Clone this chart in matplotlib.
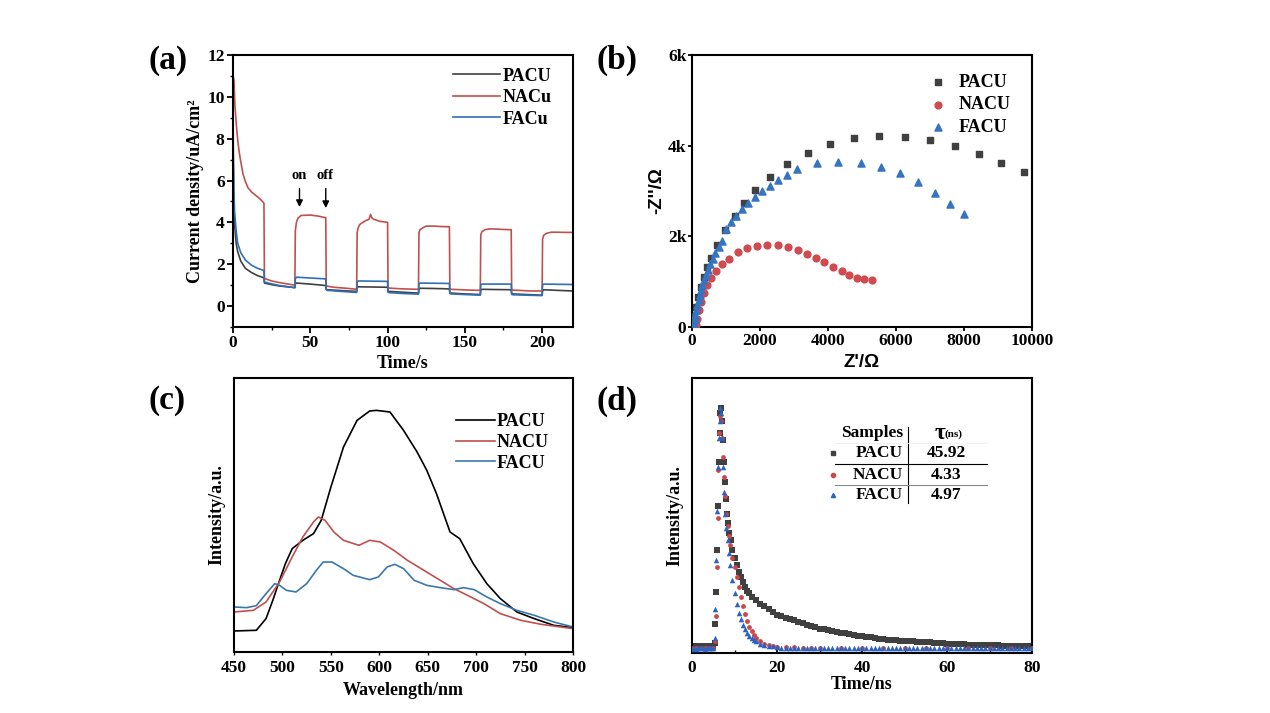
import numpy as np
import matplotlib
matplotlib.use('Agg')
import matplotlib.pyplot as plt
from matplotlib.ticker import MultipleLocator, FuncFormatter

plt.rcParams['font.family'] = ['Liberation Serif', 'DejaVu Serif']
plt.rcParams['font.weight'] = 'bold'
plt.rcParams['axes.labelweight'] = 'bold'
plt.rcParams['axes.linewidth'] = 1.5

# colours
c_pa = '#404040'
c_na = '#c0504d'
c_fa = '#2f6fb5'

# ---------------- (a) photocurrent ----------------
t_pa = [0, 0.5, 1, 2, 3, 5, 8, 12, 16, 20, 20.3, 25, 30, 35, 40, 40.3, 41, 50, 60, 60.3, 61, 70, 80,
        80.3, 81, 90, 100, 100.3, 101, 110, 120, 120.3, 121, 130, 140, 140.3, 141, 150, 160,
        160.3, 161, 170, 180, 180.3, 181, 190, 200, 200.3, 201, 210, 220]
j_pa = [8.8, 5.0, 3.9, 3.0, 2.6, 2.15, 1.8, 1.6, 1.45, 1.35, 1.1, 1.02, 0.96, 0.92, 0.88, 1.05, 1.1, 1.05, 0.98, 0.8, 0.78, 0.74, 0.7,
        0.88, 0.92, 0.91, 0.9, 0.72, 0.7, 0.66, 0.62, 0.82, 0.85, 0.84, 0.82, 0.64, 0.62, 0.58, 0.55,
        0.76, 0.8, 0.79, 0.78, 0.6, 0.58, 0.55, 0.52, 0.74, 0.78, 0.75, 0.72]

t_na = [0, 0.6, 1.2, 2.2, 3.2, 4.3, 5.5, 6.5, 8, 9.7, 12, 14, 17, 19.8, 20, 20.3, 21, 25, 30, 35, 40,
        40.3, 41, 42, 44, 50, 55, 60, 60.3, 61, 65, 70, 75, 80,
        80.3, 81, 82, 85, 88, 89, 90, 91, 95, 100, 100.3, 101, 105, 110, 115, 120,
        120.3, 121, 123, 125, 130, 135, 140, 140.3, 141, 145, 150, 155, 160,
        160.3, 161, 163, 166, 170, 175, 180, 180.3, 181, 185, 190, 195, 200,
        200.3, 201, 203, 206, 210, 215, 220]
j_na = [11.0, 10.8, 9.6, 8.6, 7.8, 7.2, 6.7, 6.3, 5.95, 5.65, 5.45, 5.33, 5.15, 4.94, 4.9, 1.35, 1.3, 1.2, 1.12, 1.06, 1.0,
        3.6, 4.0, 4.2, 4.33, 4.35, 4.3, 4.22, 1.0, 0.95, 0.9, 0.87, 0.84, 0.8,
        3.5, 3.75, 3.9, 4.05, 4.15, 4.38, 4.2, 4.15, 4.05, 4.0, 0.9, 0.86, 0.84, 0.82, 0.81, 0.8,
        3.5, 3.65, 3.75, 3.82, 3.82, 3.8, 3.79, 0.82, 0.8, 0.79, 0.77, 0.76, 0.75,
        3.4, 3.55, 3.65, 3.69, 3.68, 3.66, 3.65, 0.78, 0.76, 0.75, 0.73, 0.72, 0.72,
        3.2, 3.38, 3.48, 3.53, 3.53, 3.52, 3.52]

t_fa = [0, 0.5, 1, 2, 3, 5, 8, 12, 16, 20, 20.3, 25, 30, 35, 40, 40.3, 41, 50, 60, 60.3, 61, 70, 80,
        80.3, 81, 90, 100, 100.3, 101, 110, 120, 120.3, 121, 130, 140, 140.3, 141, 150, 160,
        160.3, 161, 170, 180, 180.3, 181, 190, 200, 200.3, 201, 210, 220]
j_fa = [7.5, 5.5, 4.5, 3.6, 3.0, 2.55, 2.2, 1.95, 1.8, 1.7, 1.15, 1.06, 0.98, 0.93, 0.88, 1.3, 1.38, 1.34, 1.3, 0.78, 0.75, 0.7, 0.65,
        1.15, 1.2, 1.19, 1.18, 0.66, 0.64, 0.6, 0.57, 1.06, 1.1, 1.09, 1.08, 0.6, 0.58, 0.55, 0.52,
        1.02, 1.05, 1.05, 1.05, 0.56, 0.54, 0.52, 0.5, 1.0, 1.05, 1.04, 1.03]

# ---------------- (b) Nyquist ----------------
zr_pa = [50, 70, 110, 170, 250, 340, 440, 560, 720, 980, 1250, 1540, 1860, 2300, 2800, 3420, 4070,
         4770, 5510, 6250, 6990, 7740, 8430, 9100, 9750]
zi_pa = [40, 220, 440, 660, 880, 1100, 1330, 1530, 1810, 2140, 2450, 2740, 3020, 3310, 3600, 3840, 4040,
         4160, 4210, 4200, 4120, 3990, 3810, 3620, 3420]

zr_na = [110, 150, 200, 260, 340, 440, 550, 700, 870, 1090, 1340, 1620, 1900, 2210, 2520, 2820, 3120,
         3380, 3640, 3870, 4140, 4400, 4630, 4850, 5070, 5290]
zi_na = [40, 180, 370, 550, 740, 920, 1080, 1230, 1380, 1510, 1650, 1740, 1780, 1800, 1800, 1760, 1690,
         1610, 1520, 1430, 1330, 1230, 1140, 1080, 1050, 1030]

zr_fa = [60, 80, 100, 130, 160, 200, 230, 260, 300, 340, 400, 460, 530, 610, 690, 780, 890, 1010, 1140, 1290, 1460,
         1650, 1840, 2050, 2290, 2530, 2800, 3080, 3680, 4300, 4960, 5570, 6130, 6660, 7160, 7580, 7990]
zi_fa = [70, 170, 260, 370, 480, 590, 700, 810, 920, 1030, 1140, 1260, 1380, 1510, 1630, 1760, 1890, 2170, 2310, 2450, 2600,
         2740, 2870, 3000, 3120, 3240, 3360, 3480, 3610, 3640, 3610, 3530, 3390, 3190, 2950, 2720, 2500]

# ---------------- (c) PL spectra ----------------
wl_pa = [450, 473, 483, 490, 497, 503, 510, 521, 532, 540, 550, 563, 577, 590, 597, 611, 625, 639, 649,
         659, 673, 678, 683, 697, 711, 725, 742, 760, 780, 800]
pl_pa = [63, 65, 100, 155, 215, 265, 310, 335, 355, 395, 495, 615, 695, 723, 725, 720, 665, 600, 545,
         475, 360, 350, 340, 265, 205, 160, 120, 100, 80, 73]

wl_na = [450, 470, 483, 497, 510, 521, 532, 537, 544, 553, 563, 579, 590, 601, 615, 629, 646, 663, 677,
         691, 708, 725, 746, 767, 800]
pl_na = [120, 125, 150, 210, 285, 345, 390, 405, 395, 360, 335, 320, 335, 330, 305, 275, 245, 215, 190,
         170, 145, 115, 95, 83, 70]

wl_fa = [450, 463, 473, 483, 492, 497, 504, 514, 525, 535, 542, 551, 563, 573, 590, 599, 608, 616, 625,
         636, 649, 663, 677, 687, 698, 711, 725, 742, 760, 780, 800]
pl_fa = [135, 133, 139, 175, 205, 200, 185, 180, 205, 245, 270, 270, 250, 230, 217, 225, 255, 263, 250,
         215, 200, 193, 187, 193, 187, 165, 145, 125, 110, 90, 75]

# ---------------- (d) TRPL ----------------
td_pa = [0, 0.5, 1, 1.5, 2, 2.5, 3, 3.5, 4, 4.5, 5, 5.3, 5.5, 5.7, 5.9, 6.1, 6.3, 6.5, 6.7, 6.9, 7.1,
         7.3, 7.5, 7.7, 7.9, 8.2, 8.5, 8.8, 9.1, 9.5, 10, 10.5, 11, 11.5, 12, 12.5, 13, 13.5]
td_pa += list(range(14, 81))
it_pa = [0.025, 0.03, 0.022, 0.028, 0.024, 0.03, 0.026, 0.023, 0.029, 0.025, 0.027, 0.04, 0.12, 0.25,
         0.42, 0.6, 0.78, 0.9, 0.98, 1.0, 0.95, 0.87, 0.78, 0.7, 0.63, 0.57, 0.53, 0.49, 0.46, 0.42,
         0.39, 0.36, 0.33, 0.31, 0.29, 0.27, 0.255, 0.245,
         0.23, 0.215, 0.2, 0.19, 0.18, 0.168, 0.156, 0.15, 0.143, 0.138, 0.133, 0.128, 0.122, 0.116,
         0.11, 0.106, 0.1, 0.097, 0.093, 0.089, 0.086, 0.082, 0.08, 0.077, 0.074, 0.071, 0.068, 0.066,
         0.064, 0.061, 0.059, 0.057, 0.055, 0.053, 0.052, 0.05, 0.048, 0.048, 0.047, 0.046, 0.045,
         0.044, 0.043, 0.042, 0.04, 0.039, 0.038, 0.038, 0.037, 0.036, 0.035, 0.034, 0.034, 0.033,
         0.032, 0.032, 0.031, 0.031, 0.031, 0.03, 0.03, 0.03, 0.029, 0.029, 0.028, 0.028, 0.027]

td_na = [0, 1, 2, 3, 4, 5, 5.4, 5.6, 5.8, 6.0, 6.2, 6.4, 6.6, 6.8, 7.0, 7.2, 7.5, 7.8, 8.1, 8.4, 8.7,
         9.0, 9.5, 10, 10.5, 11, 11.5, 12, 12.5, 13, 13.5, 14, 14.5, 15, 16, 17, 18, 19, 20,
         22, 24, 26, 28, 30, 35, 40, 45, 50, 55, 60, 65, 70, 75, 80]
it_na = [0.02, 0.022, 0.019, 0.021, 0.02, 0.022, 0.05, 0.15, 0.35, 0.55, 0.75, 0.9, 0.97, 0.95, 0.88,
         0.8, 0.72, 0.64, 0.57, 0.52, 0.48, 0.44, 0.39, 0.35, 0.31, 0.27, 0.23, 0.19, 0.16, 0.13,
         0.108, 0.088, 0.073, 0.061, 0.048, 0.038, 0.031, 0.028, 0.026,
         0.024, 0.023, 0.022, 0.022, 0.021, 0.021, 0.02, 0.02, 0.02, 0.02, 0.02, 0.02, 0.02, 0.02, 0.02]

td_fa = [0, 0.5, 1, 1.5, 2, 2.5, 3, 3.5, 4, 4.5, 5, 5.3, 5.5, 5.7, 5.9, 6.1, 6.3, 6.5, 6.7, 6.9, 7.1,
         7.3, 7.5, 7.8, 8.1, 8.4, 8.7, 9.0, 9.5, 10, 10.5, 11, 11.5, 12, 12.5, 13, 13.5, 14, 14.5, 15,
         16, 17, 18, 19]
td_fa += list(range(20, 81))
it_fa = [0.018, 0.02, 0.017, 0.021, 0.019, 0.02, 0.018, 0.021, 0.019, 0.02, 0.02, 0.06, 0.18, 0.38,
         0.58, 0.76, 0.88, 0.95, 1.0, 0.98, 0.88, 0.76, 0.66, 0.57, 0.51, 0.46, 0.41, 0.36, 0.3, 0.245,
         0.2, 0.163, 0.137, 0.116, 0.097, 0.082, 0.07, 0.061, 0.054, 0.048, 0.038, 0.033, 0.03, 0.027]
it_fa += [0.024, 0.022, 0.021, 0.02, 0.021, 0.019, 0.02, 0.021, 0.019, 0.02, 0.02, 0.019, 0.021, 0.02,
          0.019, 0.02, 0.021, 0.019, 0.02, 0.02, 0.019, 0.021, 0.02, 0.019, 0.02, 0.021, 0.019, 0.02,
          0.02, 0.019, 0.021, 0.02, 0.019, 0.02, 0.021, 0.019, 0.02, 0.02, 0.019, 0.021, 0.02, 0.019,
          0.02, 0.021, 0.019, 0.02, 0.02, 0.019, 0.021, 0.02, 0.019, 0.02, 0.021, 0.019, 0.02, 0.02,
          0.019, 0.021, 0.02, 0.019, 0.02]

samples = ['PACU', 'NACU', 'FACU']
taus = ['45.92', '4.33', '4.97']

fig = plt.figure(figsize=(12.7, 7.13), dpi=100)

tick_font = 12.5
label_font = 13

# (a)
ax1 = fig.add_axes([0.1835, 0.5414, 0.2677, 0.3815])
ax1.plot(t_pa, j_pa, color=c_pa, lw=1.2, label='PACU')
ax1.plot(t_na, j_na, color=c_na, lw=1.2, label='NACu')
ax1.plot(t_fa, j_fa, color=c_fa, lw=1.2, label='FACu')
ax1.set_xlim(0, 220)
ax1.set_ylim(-1, 12)
ax1.xaxis.set_major_locator(MultipleLocator(50))
ax1.xaxis.set_minor_locator(MultipleLocator(25))
ax1.yaxis.set_major_locator(MultipleLocator(2))
ax1.yaxis.set_minor_locator(MultipleLocator(1))
ax1.tick_params(which='major', direction='out', length=4, width=1.3, labelsize=tick_font, pad=2)
ax1.tick_params(which='minor', direction='out', length=2.5, width=1.0)
ax1.set_xlabel('Time/s', fontsize=label_font, labelpad=3)
ax1.set_ylabel('Current density/uA/cm²', fontsize=label_font, labelpad=2)
ax1.legend(loc='upper right', bbox_to_anchor=(0.975, 1.0), frameon=False, fontsize=label_font,
           handlelength=2.6, handletextpad=0.15, labelspacing=0.25, borderaxespad=0.3)
ax1.annotate('', xy=(43, 4.6), xytext=(43, 5.75),
             arrowprops=dict(arrowstyle='-|>', color='black', lw=1.0, mutation_scale=10))
ax1.annotate('', xy=(60, 4.55), xytext=(60, 5.75),
             arrowprops=dict(arrowstyle='-|>', color='black', lw=1.0, mutation_scale=10))
ax1.text(43, 6.25, 'on', ha='center', va='center', fontsize=10.5)
ax1.text(59.5, 6.25, 'off', ha='center', va='center', fontsize=10.5)

# (b)
ax2 = fig.add_axes([0.5449, 0.5414, 0.2677, 0.3815])
ax2.scatter(zr_pa, zi_pa, marker='s', s=22, color=c_pa, label='PACU', zorder=3)
ax2.scatter(zr_na, zi_na, marker='o', s=24, color='#d04a4f', label='NACU', zorder=3)
ax2.scatter(zr_fa, zi_fa, marker='^', s=26, color='#3574c0', label='FACU', zorder=3)
ax2.set_xlim(0, 10000)
ax2.set_ylim(0, 6000)
ax2.xaxis.set_major_locator(MultipleLocator(2000))
ax2.yaxis.set_major_locator(MultipleLocator(2000))
ax2.yaxis.set_major_formatter(FuncFormatter(lambda v, p: '0' if v == 0 else '%dk' % (v / 1000)))
ax2.tick_params(which='major', direction='out', length=3, width=1.3, labelsize=tick_font, pad=1)
ax2.set_xlabel("Z'/Ω", fontsize=label_font + 0.5, family=['Liberation Sans'], labelpad=4)
ax2.set_ylabel("-Z''/Ω", fontsize=label_font + 0.5, family=['Liberation Sans'], labelpad=2)
ax2.legend(loc='upper right', bbox_to_anchor=(0.985, 0.99), frameon=False, fontsize=label_font,
           handletextpad=0.15, labelspacing=0.3, scatterpoints=1)

# (c)
ax3 = fig.add_axes([0.1843, 0.0856, 0.2669, 0.3842])
ax3.plot(wl_pa, pl_pa, color='black', lw=1.2, label='PACU')
ax3.plot(wl_na, pl_na, color='#c0504d', lw=1.2, label='NACU')
ax3.plot(wl_fa, pl_fa, color='#3a78aa', lw=1.2, label='FACU')
ax3.set_xlim(450, 800)
ax3.set_ylim(0, 822)
ax3.xaxis.set_major_locator(MultipleLocator(50))
ax3.set_yticks([])
ax3.tick_params(which='major', direction='out', length=2, width=1.0, labelsize=tick_font, pad=4)
ax3.set_xlabel('Wavelength/nm', fontsize=label_font, labelpad=4)
ax3.set_ylabel('Intensity/a.u.', fontsize=label_font, labelpad=6)
ax3.legend(loc='upper right', bbox_to_anchor=(0.975, 0.93), frameon=False, fontsize=label_font,
           handlelength=2.2, handletextpad=0.05, labelspacing=0.2)

# (d)
ax4 = fig.add_axes([0.5449, 0.0842, 0.2677, 0.3856])
ax4.scatter(td_pa, it_pa, marker='s', s=14, color=c_pa, lw=0, zorder=2)
ax4.scatter(td_na, it_na, marker='o', s=12, color='#c8484c', lw=0, zorder=3)
ax4.scatter(td_fa, it_fa, marker='^', s=16, color='#2d62c0', lw=0, zorder=4)
ax4.set_xlim(0, 80)
ax4.set_ylim(0, 1.124)
ax4.xaxis.set_major_locator(MultipleLocator(20))
ax4.xaxis.set_minor_locator(MultipleLocator(10))
ax4.set_yticks([])
ax4.tick_params(which='major', direction='in', length=4, width=1.3, labelsize=tick_font, pad=5)
ax4.tick_params(which='minor', direction='in', length=2.5, width=1.0)
ax4.set_xlabel('Time/ns', fontsize=label_font, labelpad=0)
ax4.set_ylabel('Intensity/a.u.', fontsize=label_font, labelpad=6)

# table inside (d)
row_y = [0.727, 0.647, 0.575]
marks = ['s', 'o', '^']
mcols = [c_pa, '#c8484c', '#2d62c0']
ax4.text(0.62, 0.80, 'Samples', transform=ax4.transAxes, ha='right', va='center', fontsize=12.5)
ax4.text(0.728, 0.80, 'τ', transform=ax4.transAxes, ha='center', va='center', fontsize=17)
ax4.text(0.768, 0.795, '(ns)', transform=ax4.transAxes, ha='center', va='center', fontsize=8)
for i in range(3):
    ax4.plot([0.415], [row_y[i]], marker=marks[i], ms=3, color=mcols[i], ls='none',
             transform=ax4.transAxes)
    ax4.text(0.62, row_y[i], samples[i], transform=ax4.transAxes, ha='right', va='center', fontsize=12.5)
    ax4.text(0.747, row_y[i], taus[i], transform=ax4.transAxes, ha='center', va='center', fontsize=12.5)
ax4.plot([0.635, 0.635], [0.545, 0.822], color='black', lw=0.8, transform=ax4.transAxes)
ax4.plot([0.42, 0.868], [0.687, 0.687], color='black', lw=0.8, transform=ax4.transAxes)
ax4.plot([0.42, 0.868], [0.611, 0.611], color='#888888', lw=0.8, transform=ax4.transAxes)
ax4.plot([0.42, 0.868], [0.765, 0.765], color='#eeeeee', lw=0.6, transform=ax4.transAxes)

# panel labels
fig.text(148 / 1270, 1 - 60 / 713, '(a)', fontsize=24, va='center', ha='left')
fig.text(597 / 1270, 1 - 60 / 713, '(b)', fontsize=24, va='center', ha='left')
fig.text(148 / 1270, 1 - 401 / 713, '(c)', fontsize=24, va='center', ha='left')
fig.text(597 / 1270, 1 - 401 / 713, '(d)', fontsize=24, va='center', ha='left')

fig.savefig('out.png', dpi=100)
